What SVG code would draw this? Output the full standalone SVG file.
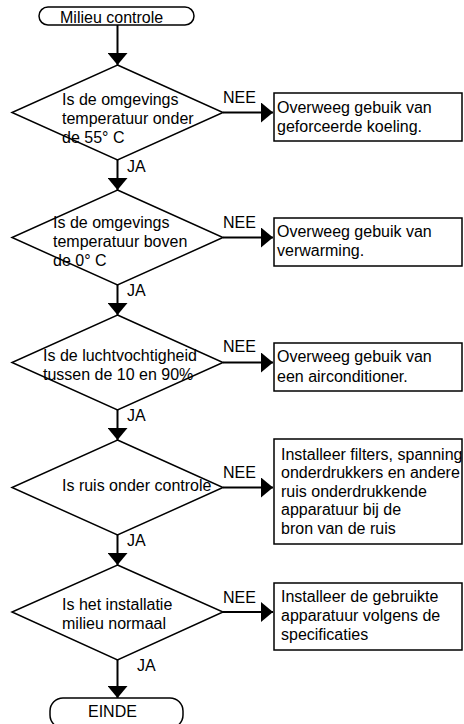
<svg xmlns="http://www.w3.org/2000/svg" width="464" height="724" viewBox="0 0 464 724">
<style>
text{font-family:"Liberation Sans",Arial,sans-serif;font-size:16px;fill:#000}
.shape{fill:#fff;stroke:#000;stroke-width:1.5}
.conn{fill:none;stroke:#000;stroke-width:2}
</style>
<defs>
<marker id="arr" markerUnits="userSpaceOnUse" markerWidth="12" markerHeight="20" refX="12" refY="10" orient="auto">
<path d="M0,0 L12,10 L0,20 z" fill="#000"/>
</marker>
</defs>
<rect width="464" height="724" fill="#fff"/>
<g id="connectors">
<line class="conn" x1="117.5" y1="25" x2="117.5" y2="65" marker-end="url(#arr)"/>
<line class="conn" x1="117.5" y1="160" x2="117.5" y2="190" marker-end="url(#arr)"/>
<line class="conn" x1="117.5" y1="285" x2="117.5" y2="315" marker-end="url(#arr)"/>
<line class="conn" x1="117.5" y1="410" x2="117.5" y2="440" marker-end="url(#arr)"/>
<line class="conn" x1="117.5" y1="535" x2="117.5" y2="565" marker-end="url(#arr)"/>
<line class="conn" x1="117.5" y1="660" x2="117.5" y2="698" marker-end="url(#arr)"/>
<line class="conn" x1="223" y1="112.5" x2="273" y2="112.5" marker-end="url(#arr)"/>
<line class="conn" x1="223" y1="237.5" x2="273" y2="237.5" marker-end="url(#arr)"/>
<line class="conn" x1="223" y1="362.5" x2="273" y2="362.5" marker-end="url(#arr)"/>
<line class="conn" x1="223" y1="487.5" x2="273" y2="487.5" marker-end="url(#arr)"/>
<line class="conn" x1="223" y1="612" x2="273" y2="612" marker-end="url(#arr)"/>
<text x="223" y="103">NEE</text>
<text x="223" y="228">NEE</text>
<text x="223" y="352">NEE</text>
<text x="223" y="478">NEE</text>
<text x="223" y="603">NEE</text>
<text x="127" y="172">JA</text>
<text x="127" y="296">JA</text>
<text x="127" y="421">JA</text>
<text x="127" y="546">JA</text>
<text x="137" y="671">JA</text>
</g>
<g id="start">
<rect class="shape" x="39" y="7" width="155" height="18" rx="9" ry="9"/>
<text x="60" y="23">Milieu controle</text>
</g>
<g id="d1">
<polygon class="shape" points="117.5,65 223,112.5 117.5,160 12,112.5"/>
<text x="62" y="105">Is de omgevings</text>
<text x="62" y="124">temperatuur onder</text>
<text x="62" y="143">de 55° C</text>
</g>
<g id="d2">
<polygon class="shape" points="117.5,190 223,237.5 117.5,285 12,237.5"/>
<text x="53" y="228">Is de omgevings</text>
<text x="53" y="247">temperatuur boven</text>
<text x="53" y="266">de 0° C</text>
</g>
<g id="d3">
<polygon class="shape" points="117.5,315 223,362.5 117.5,410 12,362.5"/>
<text x="43" y="361">Is de luchtvochtigheid</text>
<text x="43" y="380">tussen de 10 en 90%</text>
</g>
<g id="d4">
<polygon class="shape" points="117.5,440 223,487.5 117.5,535 12,487.5"/>
<text x="62" y="491">Is ruis onder controle</text>
</g>
<g id="d5">
<polygon class="shape" points="117.5,565 223,612 117.5,660 12,612"/>
<text x="62" y="610">Is het installatie</text>
<text x="62" y="629">milieu normaal</text>
</g>
<g id="b1">
<rect class="shape" x="274" y="93" width="188" height="48"/>
<text x="277" y="113">Overweeg gebuik van</text>
<text x="277" y="132">geforceerde koeling.</text>
</g>
<g id="b2">
<rect class="shape" x="274" y="218" width="188" height="48"/>
<text x="277" y="237">Overweeg gebuik van</text>
<text x="277" y="256">verwarming.</text>
</g>
<g id="b3">
<rect class="shape" x="274" y="343" width="188" height="48"/>
<text x="277" y="362">Overweeg gebuik van</text>
<text x="277" y="382">een airconditioner.</text>
</g>
<g id="b4">
<rect class="shape" x="274" y="439" width="188" height="105"/>
<text x="281" y="459.5">Installeer filters, spanning</text>
<text x="281" y="478">onderdrukkers en andere</text>
<text x="281" y="496.5">ruis onderdrukkende</text>
<text x="281" y="515">apparatuur bij de</text>
<text x="281" y="534">bron van de ruis</text>
</g>
<g id="b5">
<rect class="shape" x="274" y="583" width="188" height="67"/>
<text x="281" y="601.5">Installeer de gebruikte</text>
<text x="281" y="620.5">apparatuur volgens de</text>
<text x="281" y="639.5">specificaties</text>
</g>
<g id="end">
<rect class="shape" x="50" y="698" width="133" height="30" rx="13" ry="13"/>
<text x="88" y="717">EINDE</text>
</g>
</svg>
